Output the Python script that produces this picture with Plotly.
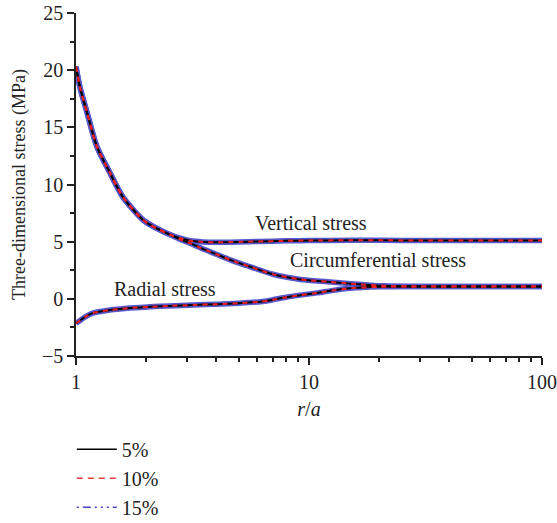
import math
import plotly.graph_objects as go

# Normalised radius r/a and stress values (MPa) for the three stress components
r_vertical = [1, 1.04, 1.115, 1.23, 1.4, 1.59, 1.94, 2.2, 2.54, 2.8, 3.1, 3.5, 4, 5, 6, 8, 10, 15, 20, 30, 50, 70, 100]
s_vertical = [20.3, 18.5, 16.3, 13.3, 11.0, 8.9, 6.9, 6.2, 5.6, 5.3, 5.08, 4.98, 4.95, 4.98, 5.02, 5.07, 5.1, 5.12, 5.12, 5.1, 5.1, 5.1, 5.1]

r_circ = [1, 1.04, 1.115, 1.23, 1.4, 1.59, 1.94, 2.2, 2.54, 2.8, 3.1, 3.42, 4.0, 4.74, 5.6, 7.0, 9.2, 12, 15.1, 20.9, 30, 50, 70, 100]
s_circ = [20.3, 18.5, 16.3, 13.3, 11.0, 8.9, 6.9, 6.2, 5.6, 5.2, 4.85, 4.46, 3.9, 3.3, 2.8, 2.15, 1.7, 1.5, 1.33, 1.14, 1.08, 1.07, 1.07, 1.07]

r_radial = [1, 1.1, 1.18, 1.4, 1.66, 2.08, 2.5, 3.19, 4.04, 5.0, 6.2, 7.0, 7.76, 9.0, 10.85, 12.5, 15, 20, 30, 50, 70, 100]
s_radial = [-2.15, -1.55, -1.25, -0.98, -0.82, -0.7, -0.62, -0.54, -0.47, -0.38, -0.25, -0.08, 0.09, 0.3, 0.52, 0.72, 0.92, 1.05, 1.08, 1.08, 1.08, 1.08]

series_names = ["5%", "10%", "15%"]
y_ticks = [-5, 0, 5, 10, 15, 20, 25]

FONT = "Liberation Serif, Times New Roman, serif"
BLUE = "rgb(88,88,205)"
RED = "rgb(240,30,30)"
BLACK = "rgb(0,0,0)"
TXT = "#222"
FS = 20

curves = [(r_vertical, s_vertical), (r_circ, s_circ), (r_radial, s_radial)]

fig = go.Figure()

# 15%: wide blue band underneath
for rx, sy in curves:
    fig.add_trace(go.Scatter(x=rx, y=sy, mode="lines",
                             line=dict(color=BLUE, width=5.5, shape="spline", smoothing=0.7),
                             showlegend=False, hoverinfo="skip"))
# 5%: solid black
for rx, sy in curves:
    fig.add_trace(go.Scatter(x=rx, y=sy, mode="lines",
                             line=dict(color=BLACK, width=2, shape="spline", smoothing=0.7),
                             showlegend=False, hoverinfo="skip"))
# 10%: red dashes on top
for rx, sy in curves:
    fig.add_trace(go.Scatter(x=rx, y=sy, mode="lines",
                             line=dict(color=RED, width=2, dash="5px,5px", shape="spline", smoothing=0.7),
                             showlegend=False, hoverinfo="skip"))

# Legend entries
legend_styles = [
    dict(color=BLACK, width=1.5, dash="solid"),
    dict(color="rgb(225,60,60)", width=1.5, dash="6px,5px"),
    dict(color="rgb(70,70,190)", width=1.5, dash="2px,4px,8px,4px,2px,4px,2px,4px"),
]
for i, (name, st) in enumerate(zip(series_names, legend_styles)):
    fig.add_trace(go.Scatter(x=[None], y=[None], mode="lines", name=name, line=st,
                             legendgroup=f"g{i}"))

# Curve labels (log axis: annotation x given in log10 units)
labels = [("Vertical stress", 10.15, 6.65), ("Circumferential stress", 19.7, 3.41), ("Radial stress", 2.41, 0.87)]
for text, lx, ly in labels:
    fig.add_annotation(x=math.log10(lx), y=ly, xref="x", yref="y", text=text, showarrow=False,
                       font=dict(family=FONT, size=FS, color=TXT))

fig.update_layout(
    width=557, height=523,
    margin=dict(l=76, r=15, t=13, b=167, autoexpand=False),
    paper_bgcolor="white", plot_bgcolor="white",
    font=dict(family=FONT, size=FS, color=TXT),
    legend=dict(x=-0.009, xanchor="left", y=-0.215, yanchor="top", tracegroupgap=0,
                font=dict(family=FONT, size=FS, color=TXT), bgcolor="rgba(0,0,0,0)",
                itemwidth=40),
)

fig.update_xaxes(
    type="log", range=[0, 2], showgrid=False, zeroline=False,
    showline=True, linecolor=TXT, linewidth=1.5,
    ticks="outside", ticklen=7, tickwidth=1.5, tickcolor=TXT,
    tickvals=[1, 10, 100], ticktext=["1", "10", "100"],
    tickfont=dict(family=FONT, size=FS, color=TXT),
    ticklabelstandoff=0,
    minor=dict(ticks="outside", ticklen=4, tickwidth=1.5, tickcolor=TXT,
               tickvals=[2, 3, 4, 5, 6, 7, 8, 9, 20, 30, 40, 50, 60, 70, 80, 90]),
    title=dict(text="<i>r</i>/<i>a</i>", font=dict(family=FONT, size=FS, color=TXT), standoff=10),
)
fig.update_yaxes(
    range=[-5, 25], showgrid=False, zeroline=False,
    showline=True, linecolor=TXT, linewidth=1.5,
    ticks="outside", ticklen=7, tickwidth=1.5, tickcolor=TXT,
    tickvals=y_ticks,
    tickfont=dict(family=FONT, size=FS, color=TXT),
    minor=dict(ticks="outside", ticklen=4, tickwidth=1.5, tickcolor=TXT, dtick=2.5),
    title=dict(text="Three-dimensional stress (MPa)", font=dict(family=FONT, size=18, color=TXT), standoff=12),
)

fig.write_html("out.html")
